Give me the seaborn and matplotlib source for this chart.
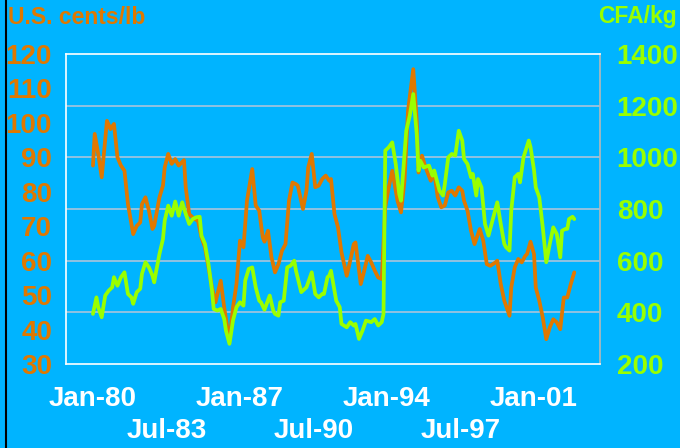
import matplotlib
matplotlib.use("Agg")
import matplotlib.pyplot as plt
import seaborn as sns
from matplotlib.lines import Line2D

# months since Jan-1980
usd_months = [0, 1, 3, 5, 8, 10, 12, 14, 16, 18, 20, 23, 25, 27, 28, 30, 32, 34, 35, 38,
              40, 41, 43, 45, 47, 49, 52, 53, 55, 58, 60, 62, 64, 66, 68, 70, 73, 75, 77, 78,
              80, 82, 84, 86, 88, 91, 93, 95, 97, 98, 100, 102, 104, 106, 108, 110, 112, 114, 116, 117,
              120, 122, 123, 125, 127, 129, 131, 133, 135, 136, 138, 140, 142, 145, 147, 149, 150, 153, 155, 157,
              159, 161, 163, 165, 167, 169, 171, 174, 176, 178, 180, 183, 185, 186, 188, 190, 193, 195, 197, 199,
              201, 203, 205, 207, 209, 211, 212, 214, 216, 218, 221, 223, 225, 227, 230, 231, 233, 235, 238, 239,
              241, 243, 245, 247, 248, 250, 252, 253, 255, 257, 259, 261, 263, 265, 267, 269, 271, 273, 275]
usd_cents = [87.6, 96.8, 91, 84.2, 100.6, 98.2, 99.7, 90, 87.6, 86.1, 76.4, 67.7, 70.1, 71.1, 76.4, 78.4, 74.5, 69.2, 70.1, 78.4,
             81.8, 87.1, 91, 88.1, 89.5, 87.6, 89.2, 81.3, 73.5, 72.1, 71.6, 66.8, 63.9, 58.1, 52.2, 47.9, 54.2, 46.4, 39.7, 36.8,
             46.4, 53.2, 65.8, 63.9, 77.4, 86.6, 76, 74.5, 66.8, 65.5, 68.7, 61, 56.6, 59, 62.9, 64.8, 77.4, 82.7, 82.2, 81.8,
             75, 80.3, 87.1, 91, 81.3, 81.8, 83.7, 84.7, 83.2, 83.7, 73.5, 69.7, 62.4, 55.6, 60, 64.8, 65.3, 53.2, 57.1, 61.4,
             59.5, 57.1, 55.1, 54.7, 75.5, 81.3, 86.1, 77.4, 74, 83.2, 103.5, 115.6, 100.6, 85.6, 90.5, 87.1, 83.2, 85.6, 78.4, 75.5,
             76, 79.8, 80.3, 78.9, 81.3, 80.3, 77.4, 74.5, 68.7, 64.8, 69.2, 65.8, 59, 58.5, 59.5, 60, 53.2, 48.4, 44, 52.2,
             58.1, 60.5, 59.5, 61.4, 61.9, 65.5, 61.9, 52.2, 48.4, 43.5, 37.2, 40.6, 43, 42.1, 40.1, 49.3, 49.3, 53.2, 56.6]

cfa_months = [0, 2, 3, 5, 7, 9, 11, 12, 14, 16, 18, 20, 22, 23, 25, 27, 28, 30, 32, 34,
              35, 36, 38, 40, 41, 43, 45, 47, 49, 51, 53, 55, 57, 59, 61, 62, 64, 66, 68, 69,
              71, 73, 75, 76, 78, 80, 82, 84, 86, 87, 89, 91, 93, 95, 96, 98, 101, 103, 104, 106,
              107, 109, 111, 113, 115, 116, 119, 122, 125, 127, 129, 131, 132, 134, 135, 136, 139, 141, 142, 145,
              147, 149, 150, 152, 154, 156, 159, 161, 163, 165, 166, 167, 169, 171, 173, 175, 176, 179, 181, 183,
              185, 186, 187, 189, 192, 194, 195, 198, 200, 201, 203, 205, 207, 209, 211, 212, 214, 216, 217, 219,
              220, 222, 224, 226, 228, 231, 233, 235, 236, 238, 239, 241, 243, 244, 246, 249, 250, 252, 253, 255,
              257, 259, 261, 263, 265, 267, 268, 270, 271, 272, 274, 275]
cfa_kg = [394, 458, 420, 381, 465, 484, 497, 536, 503, 536, 555, 471, 458, 433, 478, 491, 549, 594, 574, 542,
          516, 555, 626, 684, 755, 813, 774, 829, 774, 826, 781, 742, 761, 768, 770, 697, 665, 587, 484, 413,
          407, 413, 374, 329, 278, 368, 420, 439, 426, 523, 568, 574, 497, 445, 439, 410, 465, 407, 394, 387,
          439, 445, 574, 581, 600, 561, 478, 497, 555, 471, 458, 471, 471, 536, 542, 561, 445, 420, 355, 342,
          362, 349, 355, 297, 329, 368, 362, 374, 349, 362, 394, 1026, 1039, 1058, 974, 858, 832, 1103, 1161, 1245,
          1090, 949, 987, 961, 968, 929, 949, 871, 852, 894, 1000, 1013, 1007, 1103, 1065, 994, 974, 923, 936, 852,
          916, 884, 742, 697, 749, 826, 742, 665, 652, 639, 794, 923, 936, 903, 1000, 1065, 1040, 950, 884, 845,
          729, 594, 665, 729, 703, 613, 716, 723, 723, 761, 770, 761]

jan_ticks = [0, 84, 168, 252]
jan_labels = ["Jan-80", "Jan-87", "Jan-94", "Jan-01"]
jul_ticks = [42, 126, 210]
jul_labels = ["Jul-83", "Jul-90", "Jul-97"]
left_ticks = [30, 40, 50, 60, 70, 80, 90, 100, 110, 120]
right_ticks = [200, 400, 600, 800, 1000, 1200, 1400]

bg = "#00B4FF"
orange = "#E07800"
green = "#99FF00"

sns.set_theme(style="white")
plt.rcParams["font.family"] = ["Liberation Sans", "DejaVu Sans"]
plt.rcParams["font.weight"] = "bold"

fig = plt.figure(figsize=(6.8, 4.48), dpi=100, facecolor=bg)
pos = [66 / 680, 84 / 448, 534 / 680, 310 / 448]

# background axes only for the gridlines (right-hand scale)
ax_grid = fig.add_axes(pos)
ax_grid.set_facecolor(bg)
ax_grid.set_xlim(-15.4, 289.7)
ax_grid.set_ylim(200, 1400)
ax_grid.set_yticks([400, 600, 800, 1000, 1200])
ax_grid.yaxis.grid(True, color="#A9C4DC", linewidth=1.2)
for s in ax_grid.spines.values():
    s.set_visible(False)

# x ticks in two staggered rows
ax_grid.set_xticks(jan_ticks)
ax_grid.set_xticklabels(jan_labels)
ax_grid.set_xticks(jul_ticks, minor=True)
ax_grid.set_xticklabels(jul_labels, minor=True)
ax_grid.tick_params(axis="x", which="major", length=0, pad=16, labelsize=20, labelcolor="white")
ax_grid.tick_params(axis="x", which="minor", length=0, pad=39, labelsize=20, labelcolor="white")

# left axis: U.S. cents/lb
ax_l = ax_grid.twinx()
ax_l.yaxis.tick_left()
sns.lineplot(x=usd_months, y=usd_cents, ax=ax_l, color=orange, linewidth=2.7)
ax_l.set_ylim(30, 120)
ax_l.set_yticks(left_ticks)
ax_l.tick_params(axis="y", length=0, left=False, right=False, labelleft=True, labelright=False,
                 pad=10, labelsize=20, labelcolor=orange)
ax_l.set_ylabel("")
for s in ax_l.spines.values():
    s.set_visible(False)

# right axis: CFA/kg
ax_r = ax_grid.twinx()
sns.lineplot(x=cfa_months, y=cfa_kg, ax=ax_r, color=green, linewidth=2.7)
ax_r.set_ylim(200, 1400)
ax_r.set_yticks(right_ticks)
ax_r.tick_params(axis="y", length=0, left=False, right=False, labelleft=False, labelright=True,
                 pad=12, labelsize=20, labelcolor=green)
ax_r.set_ylabel("")
ax_r.set_xlim(-15.4, 289.7)
for side in ["top", "left", "bottom"]:
    ax_r.spines[side].set_color("white")
    ax_r.spines[side].set_linewidth(1.2)
ax_r.spines["right"].set_color("#B8B8B8")
ax_r.spines["right"].set_linewidth(1.2)

# twinx turned the grid axes' y ticks back on; hide them again
ax_grid.tick_params(axis="y", length=0, left=False, labelleft=False, right=False, labelright=False)

fig.text(8 / 680, 1 - 17 / 448, "U.S. cents/lb", color=orange, fontsize=16.5,
         fontweight="bold", ha="left", va="center")
fig.text(677 / 680, 1 - 17 / 448, "CFA/kg", color=green, fontsize=16.5,
         fontweight="bold", ha="right", va="center")
fig.add_artist(Line2D([6 / 680, 6 / 680], [0, 1], color="black", linewidth=1.5))

fig.savefig("out.png", dpi=100, facecolor=bg)
